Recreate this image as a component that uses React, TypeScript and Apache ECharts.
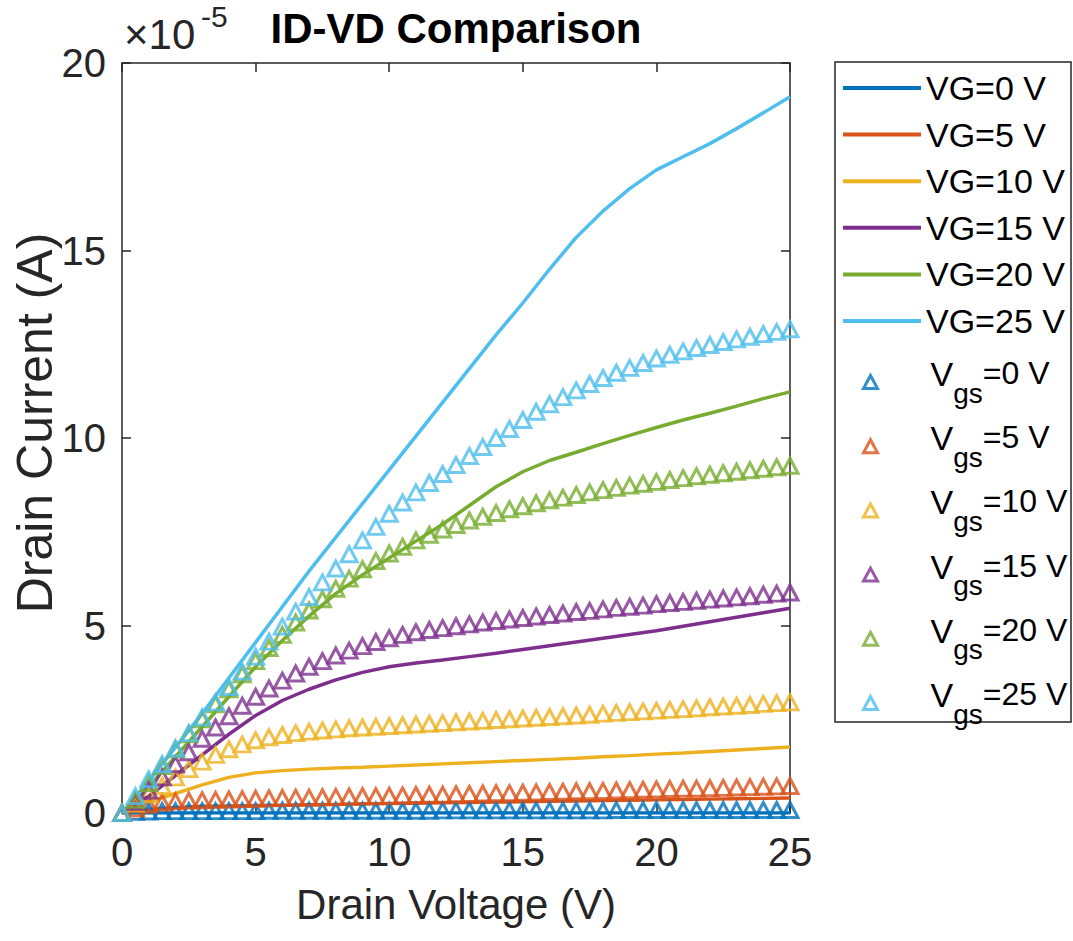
import React, { useEffect, useRef } from 'react';
import * as echarts from 'echarts';

// Drain voltage samples (V)
const vdSim = [0, 1, 2, 3, 4, 5, 6, 7, 8, 9, 10, 11, 12, 13, 14, 15, 16, 17, 18, 19, 20, 21, 22, 23, 24, 25];
const vdMeas = [
  0, 0.5, 1, 1.5, 2, 2.5, 3, 3.5, 4, 4.5,
  5, 5.5, 6, 6.5, 7, 7.5, 8, 8.5, 9, 9.5,
  10, 10.5, 11, 11.5, 12, 12.5, 13, 13.5, 14, 14.5,
  15, 15.5, 16, 16.5, 17, 17.5, 18, 18.5, 19, 19.5,
  20, 20.5, 21, 21.5, 22, 22.5, 23, 23.5, 24, 24.5,
  25,
];

// Simulated drain current (x1e-5 A)
const simVG0 = [0, 0, 0, 0, 0, 0, 0, 0, 0, 0, 0, 0, 0, 0, 0, 0, 0, 0, 0, 0, 0, 0, 0, 0, 0, 0];
const simVG5 = [0, 0.1, 0.15, 0.18, 0.19, 0.2, 0.21, 0.22, 0.23, 0.24, 0.25, 0.26, 0.27, 0.28, 0.29, 0.3, 0.31, 0.32, 0.33, 0.34, 0.35, 0.36, 0.37, 0.38, 0.39, 0.4];
const simVG10 = [0, 0.3, 0.52, 0.75, 0.95, 1.07, 1.13, 1.17, 1.2, 1.22, 1.25, 1.28, 1.31, 1.34, 1.37, 1.4, 1.43, 1.46, 1.5, 1.53, 1.57, 1.6, 1.64, 1.68, 1.72, 1.76];
const simVG15 = [0, 0.45, 1.0, 1.55, 2.1, 2.6, 3.0, 3.3, 3.55, 3.75, 3.9, 4.0, 4.08, 4.17, 4.26, 4.36, 4.46, 4.56, 4.66, 4.76, 4.86, 4.98, 5.1, 5.22, 5.34, 5.46];
const simVG20 = [0, 0.7, 1.5, 2.3, 3.1, 3.9, 4.6, 5.25, 5.85, 6.35, 6.8, 7.25, 7.7, 8.2, 8.7, 9.1, 9.4, 9.62, 9.85, 10.07, 10.28, 10.48, 10.66, 10.85, 11.05, 11.23];
const simVG25 = [0, 0.85, 1.75, 2.65, 3.6, 4.55, 5.5, 6.45, 7.35, 8.25, 9.15, 10.05, 10.95, 11.85, 12.75, 13.6, 14.5, 15.35, 16.05, 16.65, 17.15, 17.5, 17.85, 18.25, 18.67, 19.1];

// Measured drain current (x1e-5 A)
const measVgs0 = [
  0, 0.03, 0.04, 0.05, 0.05, 0.05, 0.05, 0.05, 0.05, 0.05,
  0.05, 0.06, 0.06, 0.06, 0.06, 0.06, 0.06, 0.06, 0.06, 0.06,
  0.06, 0.06, 0.06, 0.06, 0.07, 0.07, 0.07, 0.07, 0.07, 0.07,
  0.07, 0.07, 0.07, 0.07, 0.07, 0.07, 0.07, 0.08, 0.08, 0.08,
  0.08, 0.08, 0.08, 0.08, 0.08, 0.08, 0.08, 0.08, 0.08, 0.08,
  0.08,
];
const measVgs5 = [
  0, 0.12, 0.22, 0.28, 0.31, 0.33, 0.34, 0.35, 0.36, 0.37,
  0.38, 0.39, 0.4, 0.41, 0.41, 0.42, 0.43, 0.44, 0.45, 0.45,
  0.46, 0.47, 0.48, 0.49, 0.49, 0.5, 0.51, 0.52, 0.53, 0.53,
  0.54, 0.55, 0.56, 0.57, 0.58, 0.58, 0.59, 0.6, 0.61, 0.62,
  0.63, 0.64, 0.65, 0.65, 0.66, 0.67, 0.68, 0.69, 0.7, 0.71,
  0.72,
];
const measVgs10 = [
  0, 0.25, 0.5, 0.72, 0.95, 1.17, 1.37, 1.55, 1.7, 1.83,
  1.94, 2.02, 2.08, 2.13, 2.17, 2.2, 2.23, 2.26, 2.28, 2.3,
  2.32, 2.34, 2.36, 2.38, 2.4, 2.42, 2.44, 2.46, 2.48, 2.5,
  2.52, 2.54, 2.56, 2.58, 2.6, 2.62, 2.65, 2.67, 2.69, 2.71,
  2.73, 2.75, 2.77, 2.79, 2.82, 2.84, 2.86, 2.88, 2.91, 2.93,
  2.95,
];
const measVgs15 = [
  0, 0.3, 0.6, 0.95, 1.3, 1.62, 1.98, 2.28, 2.58, 2.86,
  3.1, 3.32, 3.53, 3.72, 3.9, 4.05, 4.2, 4.33, 4.45, 4.56,
  4.66, 4.75, 4.82, 4.88, 4.93, 4.98, 5.03, 5.08, 5.12, 5.16,
  5.2, 5.24, 5.28, 5.32, 5.36, 5.39, 5.43, 5.47, 5.5, 5.53,
  5.57, 5.6, 5.63, 5.66, 5.69, 5.72, 5.75, 5.78, 5.82, 5.85,
  5.88,
];
const measVgs20 = [
  0, 0.35, 0.8, 1.25, 1.7, 2.1, 2.5, 2.9, 3.3, 3.7,
  4.05, 4.4, 4.75, 5.08, 5.4, 5.7, 5.98, 6.25, 6.5, 6.72,
  6.92, 7.1, 7.27, 7.42, 7.56, 7.68, 7.8, 7.9, 8.0, 8.1,
  8.18, 8.26, 8.34, 8.41, 8.48, 8.55, 8.61, 8.67, 8.73, 8.78,
  8.83, 8.88, 8.93, 8.98, 9.02, 9.06, 9.1, 9.14, 9.18, 9.22,
  9.26,
];
const measVgs25 = [
  0, 0.45, 0.9, 1.3, 1.72, 2.13, 2.55, 2.95, 3.36, 3.77,
  4.17, 4.57, 4.97, 5.37, 5.76, 6.15, 6.52, 6.9, 7.27, 7.63,
  7.98, 8.28, 8.55, 8.8, 9.04, 9.28, 9.52, 9.76, 10.0, 10.24,
  10.48, 10.7, 10.9, 11.09, 11.27, 11.44, 11.6, 11.74, 11.87, 12.0,
  12.12, 12.22, 12.31, 12.4, 12.48, 12.56, 12.63, 12.7, 12.77, 12.83,
  12.9,
];

const simNames = ['VG=0 V', 'VG=5 V', 'VG=10 V', 'VG=15 V', 'VG=20 V', 'VG=25 V'];
const measNames = ['Vgs=0 V', 'Vgs=5 V', 'Vgs=10 V', 'Vgs=15 V', 'Vgs=20 V', 'Vgs=25 V'];
const colors = ['#0072BD', '#D95319', '#EDB120', '#7E2F8E', '#77AC30', '#4DBEEE'];
const xTicks = [0, 5, 10, 15, 20, 25];
const yTicks = [0, 5, 10, 15, 20];

const simData = [simVG0, simVG5, simVG10, simVG15, simVG20, simVG25];
const measData = [measVgs0, measVgs5, measVgs10, measVgs15, measVgs20, measVgs25];

const FONT = "'Liberation Sans', Arial, Helvetica, sans-serif";
const AXIS = '#262626';

export default function App() {
  const ref = useRef<HTMLDivElement>(null);

  useEffect(() => {
    if (!ref.current) return;
    const chart = echarts.init(ref.current, null, { renderer: 'svg' });

    const lineSeries = simData.map((vals, i) => ({
      name: simNames[i],
      type: 'line',
      xAxisIndex: 0,
      yAxisIndex: 0,
      data: vals.map((v, k) => [vdSim[k], v]),
      symbol: 'none',
      showSymbol: false,
      smooth: false,
      lineStyle: { color: colors[i], width: 3.5 },
      itemStyle: { color: colors[i] },
      z: 2,
    }));

    const scatterSeries = measData.map((vals, i) => ({
      name: measNames[i],
      type: 'scatter',
      xAxisIndex: 0,
      yAxisIndex: 0,
      data: vals.map((v, k) => [vdMeas[k], v]),
      symbol: 'triangle',
      symbolSize: [16, 15],
      itemStyle: { color: 'rgba(255,255,255,0)', borderColor: colors[i], borderWidth: 3 },
      z: 3,
    }));

    const axisLine = { show: true, onZero: false, lineStyle: { color: AXIS, width: 1.5 } };
    const tick = { show: true, inside: true, length: 9, lineStyle: { color: AXIS, width: 1.5 } };

    chart.setOption({
      animation: false,
      backgroundColor: '#fff',
      title: {
        text: 'ID-VD Comparison',
        left: 456,
        top: 7,
        textAlign: 'center',
        padding: 0,
        textStyle: { fontFamily: FONT, fontWeight: 'bold', fontSize: 42, color: '#000' },
      },
      grid: { left: 122, right: 283, top: 63, bottom: 128, containLabel: false, outerBoundsMode: 'none' },
      xAxis: [
        {
          type: 'value',
          min: 0,
          max: 25,
          interval: 5,
          position: 'bottom',
          name: 'Drain Voltage (V)',
          nameLocation: 'middle',
          nameGap: 70,
          nameMoveOverlap: false,
          nameTextStyle: { fontFamily: FONT, fontSize: 42, color: AXIS },
          axisLine,
          axisTick: tick,
          splitLine: { show: false },
          axisLabel: {
            margin: 19,
            fontFamily: FONT,
            fontSize: 40,
            color: AXIS,
            formatter: (v: number) => (xTicks.includes(v) ? String(v) : ''),
          },
        },
        {
          type: 'value',
          min: 0,
          max: 25,
          interval: 5,
          position: 'top',
          axisLine,
          axisTick: tick,
          splitLine: { show: false },
          axisLabel: { show: false },
        },
      ],
      yAxis: [
        {
          type: 'value',
          min: 0,
          max: 20,
          interval: 5,
          position: 'left',
          name: 'Drain Current (A)',
          nameLocation: 'middle',
          nameGap: 62,
          nameMoveOverlap: false,
          nameTextStyle: { fontFamily: FONT, fontSize: 50, color: AXIS, padding: [0, 0, 0, 30] },
          axisLine,
          axisTick: tick,
          splitLine: { show: false },
          axisLabel: {
            margin: 16,
            fontFamily: FONT,
            fontSize: 40,
            color: AXIS,
            formatter: (v: number) => (yTicks.includes(v) ? String(v) : ''),
          },
        },
        {
          type: 'value',
          min: 0,
          max: 20,
          interval: 5,
          position: 'right',
          axisLine,
          axisTick: tick,
          splitLine: { show: false },
          axisLabel: { show: false },
        },
      ],
      legend: [
        {
          orient: 'vertical',
          left: 843,
          top: 68,
          padding: 0,
          icon: 'rect',
          itemWidth: 78,
          itemHeight: 4,
          itemGap: 6.6,
          selectedMode: false,
          data: simNames,
          textStyle: { fontFamily: FONT, fontSize: 34, lineHeight: 40, color: '#000' },
        },
        {
          orient: 'vertical',
          left: 862,
          top: 357,
          padding: 0,
          itemWidth: 14,
          itemHeight: 13,
          itemGap: 14.2,
          selectedMode: false,
          data: measNames.map((n, i) => ({
            name: n,
            itemStyle: { color: 'rgba(255,255,255,0)', borderColor: colors[i], borderWidth: 3 },
          })),
          formatter: (name: string) => '{v|V}{s|gs}{n|' + name.replace('Vgs', '') + '}',
          textStyle: {
            fontFamily: FONT,
            fontSize: 34,
            color: '#000',
            rich: {
              v: { fontFamily: FONT, fontSize: 34, verticalAlign: 'top', padding: [0, 0, 0, 48], color: '#000' },
              n: { fontFamily: FONT, fontSize: 32, verticalAlign: 'top', color: '#000' },
              s: { fontFamily: FONT, fontSize: 28, padding: [22, 0, 0, 0], verticalAlign: 'bottom', color: '#000' },
            },
          },
        },
      ],
      graphic: [
        {
          type: 'rect',
          z: -1,
          shape: { x: 835, y: 62, width: 236, height: 660 },
          style: { fill: '#fff', stroke: AXIS, lineWidth: 1.5 },
          silent: true,
        },
        {
          type: 'text',
          x: 124,
          y: 13,
          style: { text: '×10', fontFamily: FONT, fontSize: 42, fill: AXIS },
          silent: true,
        },
        {
          type: 'text',
          x: 201,
          y: 1,
          style: { text: '-5', fontFamily: FONT, fontSize: 30, fill: AXIS },
          silent: true,
        },
      ],
      series: [...lineSeries, ...scatterSeries],
    });

    return () => chart.dispose();
  }, []);

  return (
    <div
      ref={ref}
      style={{ position: 'fixed', left: 0, top: 0, width: 1073, height: 941, background: '#fff' }}
    />
  );
}
